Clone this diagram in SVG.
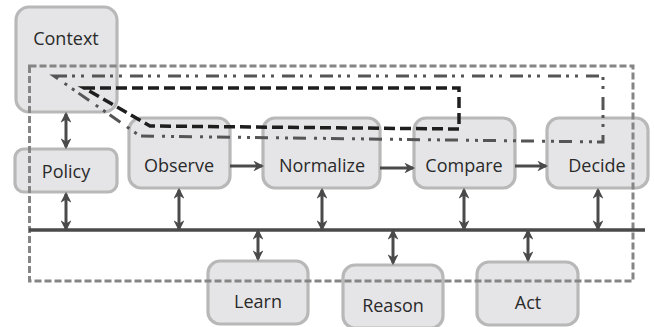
<svg xmlns="http://www.w3.org/2000/svg" width="655" height="327" viewBox="0 0 655 327">
  <style>
    .box { fill: #e5e5e7; stroke: #b8b8b8; stroke-width: 3.2; }
    .lbl { font-family: "Open Sans", "Noto Sans", sans-serif; font-size: 18px; fill: #2a2a2a; text-anchor: middle; }
    .arr { stroke: #4a4a4a; stroke-width: 3; fill: none; }
    .bus { stroke: #4a4a4a; stroke-width: 3.5; fill: none; }
    .frame { stroke: #858585; stroke-width: 3; fill: none; stroke-dasharray: 7 3; }
    .dashdot { stroke: #555; stroke-width: 3; fill: none; stroke-dasharray: 13 5 3 6 3 8; }
    .dash { stroke: #1e1e1e; stroke-width: 3.5; fill: none; stroke-dasharray: 11 5; }
  </style>
  <defs>
    <marker id="ah" viewBox="0 0 10 10" refX="8" refY="5" markerWidth="3.6" markerHeight="3.6" orient="auto-start-reverse" markerUnits="strokeWidth">
      <path d="M0,0 L10,5 L0,10 L3,5 Z" fill="#4a4a4a"/>
    </marker>
  </defs>

  <g id="context"><rect class="box" x="16" y="7" width="101" height="105" rx="13"/><text class="lbl" x="66" y="45">Context</text></g>
  <g id="policy"><rect class="box" x="15" y="149" width="102" height="43" rx="9"/><text class="lbl" x="66" y="178">Policy</text></g>
  <g id="observe"><rect class="box" x="129" y="118" width="101" height="70" rx="12"/><text class="lbl" x="179" y="172">Observe</text></g>
  <g id="normalize"><rect class="box" x="263" y="118" width="117" height="70" rx="12"/><text class="lbl" x="322" y="172">Normalize</text></g>
  <g id="compare"><rect class="box" x="414" y="118" width="101" height="70" rx="12"/><text class="lbl" x="464" y="172">Compare</text></g>
  <g id="decide"><rect class="box" x="547" y="118" width="101" height="70" rx="12"/><text class="lbl" x="597" y="172">Decide</text></g>
  <g id="learn"><rect class="box" x="208" y="261" width="100" height="63" rx="12"/><text class="lbl" x="258" y="308">Learn</text></g>
  <g id="reason"><rect class="box" x="343" y="265" width="100" height="63" rx="12"/><text class="lbl" x="393" y="312">Reason</text></g>
  <g id="act"><rect class="box" x="477" y="262" width="101" height="63" rx="12"/><text class="lbl" x="528" y="309">Act</text></g>

  <g id="connectors">
    <!-- system boundary -->
    <rect class="frame" x="29.5" y="66" width="603.5" height="215"/>
    <!-- shared bus -->
    <line class="bus" x1="29" y1="230" x2="645" y2="230"/>
    <!-- pipeline -->
    <line class="arr" x1="230" y1="166" x2="262" y2="166" marker-end="url(#ah)"/>
    <line class="arr" x1="380" y1="168" x2="413" y2="168" marker-end="url(#ah)"/>
    <line class="arr" x1="515" y1="166" x2="546" y2="166" marker-end="url(#ah)"/>
    <!-- bus links -->
    <line class="arr" x1="66" y1="114" x2="66" y2="147" marker-start="url(#ah)" marker-end="url(#ah)"/>
    <line class="arr" x1="66" y1="194" x2="66" y2="229" marker-start="url(#ah)" marker-end="url(#ah)"/>
    <line class="arr" x1="179" y1="190" x2="179" y2="229" marker-start="url(#ah)" marker-end="url(#ah)"/>
    <line class="arr" x1="322" y1="190" x2="322" y2="229" marker-start="url(#ah)" marker-end="url(#ah)"/>
    <line class="arr" x1="464" y1="190" x2="464" y2="229" marker-start="url(#ah)" marker-end="url(#ah)"/>
    <line class="arr" x1="598" y1="190" x2="598" y2="229" marker-start="url(#ah)" marker-end="url(#ah)"/>
    <line class="arr" x1="258" y1="231" x2="258" y2="259" marker-start="url(#ah)" marker-end="url(#ah)"/>
    <line class="arr" x1="393" y1="231" x2="393" y2="263" marker-start="url(#ah)" marker-end="url(#ah)"/>
    <line class="arr" x1="528" y1="231" x2="528" y2="260" marker-start="url(#ah)" marker-end="url(#ah)"/>
    <!-- feedback loops -->
    <path class="dashdot" d="M54,76 L603,76 L603,142 L140,136 Z"/>
    <path class="dash" d="M84,88 L459,88 L459,129 L150,126 Z"/>
  </g>
</svg>
